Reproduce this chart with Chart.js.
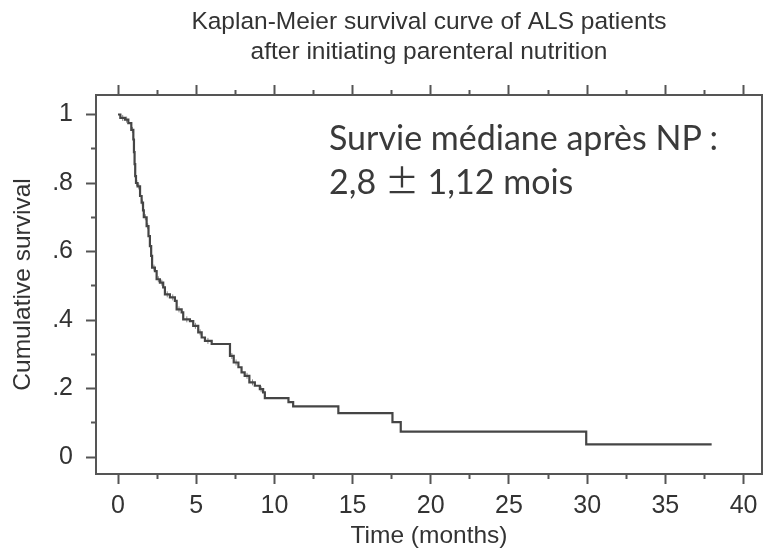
<!DOCTYPE html>
<html><head><meta charset="utf-8">
<script src="https://cdn.jsdelivr.net/npm/chart.js@4/dist/chart.umd.min.js"></script>
<style>
html,body{margin:0;padding:0;background:#fff;}
#wrap{position:relative;width:767px;height:552px;}
#note{position:absolute;left:329px;top:115px;font-family:Lato,sans-serif;font-size:34px;line-height:43px;color:#3a3a3a;white-space:nowrap;}
.pm{font-family:"Noto Sans CJK JP";}
</style></head><body>
<div id="wrap"><canvas id="c" width="767" height="552"></canvas>
<div id="note">Survie médiane après NP :<br>2,8 <span class="pm">±</span> 1,12 mois</div></div>
<script>
// Kaplan-Meier step curve: time of each step (months) and survival after it
const timeMonths = [0, 0.15, 0.45, 0.66, 0.85, 0.98, 1.02, 1.06, 1.1, 1.15, 1.25, 1.41, 1.51, 1.6, 1.65, 1.83, 1.95, 2.04, 2.12, 2.18, 2.36, 2.47, 2.68, 2.89, 3.0, 3.32, 3.64, 3.75, 4.07, 4.17, 4.6, 4.81, 5.13, 5.35, 5.56, 5.99, 7.16, 7.4, 7.7, 7.9, 8.1, 8.4, 8.75, 9.07, 9.28, 9.39, 10.9, 11.2, 14.09, 17.55, 18.08, 29.94, 37.96];
const survival   = [1.0, 0.99, 0.985, 0.975, 0.955, 0.927, 0.89, 0.855, 0.82, 0.80, 0.79, 0.762, 0.743, 0.72, 0.70, 0.674, 0.645, 0.616, 0.587, 0.553, 0.543, 0.519, 0.509, 0.495, 0.475, 0.466, 0.456, 0.431, 0.422, 0.402, 0.397, 0.383, 0.364, 0.349, 0.339, 0.33, 0.295, 0.276, 0.262, 0.247, 0.237, 0.218, 0.208, 0.198, 0.189, 0.172, 0.16, 0.148, 0.128, 0.102, 0.074, 0.037, 0.037];

// censored observations (small tick marks on the curve)
const censorTimes    = [0.3, 0.55, 0.92, 1.2, 1.33, 1.55, 1.75, 1.9, 2.08, 2.3, 2.58, 2.8, 3.15, 3.5, 3.9, 4.4, 4.95, 5.25, 5.75, 7.28, 7.55, 8.25, 8.6, 9.15];
const censorSurvival = [0.99, 0.985, 0.955, 0.80, 0.79, 0.743, 0.70, 0.674, 0.616, 0.553, 0.519, 0.509, 0.475, 0.466, 0.431, 0.402, 0.383, 0.364, 0.339, 0.295, 0.276, 0.237, 0.218, 0.198];

const xMajorTicks = [0, 5, 10, 15, 20, 25, 30, 35, 40];
const xMinorTicks = [2.5, 7.5, 12.5, 17.5, 22.5, 27.5, 32.5, 37.5];
const yMajorTicks = [0, 0.2, 0.4, 0.6, 0.8, 1];
const yTickLabels = ['0', '.2', '.4', '.6', '.8', '1'];
const yMinorTicks = [0.1, 0.3, 0.5, 0.7, 0.9];

const chartTitle = ['Kaplan-Meier survival curve of ALS patients', 'after initiating parenteral nutrition'];
const xTitle = 'Time (months)';
const yTitle = 'Cumulative survival';

const X_MIN = -1.407, X_MAX = 41.18, Y_MIN = -0.0496, Y_MAX = 1.057;
const axisColor = '#555';
const textColor = '#333';

Chart.defaults.font.family = '"Liberation Sans", Arial, sans-serif';
Chart.defaults.color = textColor;

const fixedTicks = vals => scale => { scale.ticks = vals.map(v => ({ value: v })); };

function tickAxis(axis, position, vals, len, border, weight) {
  return {
    type: 'linear', axis, position, weight,
    min: axis === 'x' ? X_MIN : Y_MIN, max: axis === 'x' ? X_MAX : Y_MAX,
    afterBuildTicks: fixedTicks(vals),
    afterFit: s => { if (axis === 'x') s.height = 0; else s.width = 0; },
    ticks: { display: false, autoSkip: false },
    grid: { display: true, drawOnChartArea: false, drawTicks: true, tickLength: len, tickColor: axisColor, tickWidth: 2 },
    border: { display: border, color: axisColor, width: 2 }
  };
}

new Chart(document.getElementById('c'), {
  type: 'line',
  data: {
    datasets: [{
      data: timeMonths.map((t, i) => ({ x: t, y: survival[i] })),
      stepped: true,
      borderColor: '#454545',
      borderWidth: 2.2,
      pointRadius: 0,
      fill: false
    }, {
      type: 'scatter',
      data: censorTimes.map((t, i) => ({ x: t, y: censorSurvival[i] })),
      showLine: false,
      pointStyle: 'line',
      rotation: 90,
      pointRadius: 3,
      borderWidth: 1,
      borderColor: '#888',
      backgroundColor: '#888'
    }]
  },
  options: {
    responsive: false, animation: false, devicePixelRatio: 1,
    layout: { padding: { left: 0, right: 5, top: 0, bottom: 0 } },
    plugins: {
      legend: { display: false }, tooltip: { enabled: false },
      title: {
        display: true, text: chartTitle, fullSize: false, color: textColor,
        font: { size: 24.5, weight: 'normal', lineHeight: 1.22 },
        padding: { top: 7, bottom: 28.2 }
      }
    },
    scales: {
      x: {
        type: 'linear', position: 'bottom', weight: 1, min: X_MIN, max: X_MAX,
        afterBuildTicks: fixedTicks(xMajorTicks),
        afterFit: s => { s.height = 78; },
        ticks: { font: { size: 25 }, color: textColor, padding: 7, autoSkip: false, maxRotation: 0 },
        grid: { drawOnChartArea: false, tickLength: 10, tickColor: axisColor, tickWidth: 2 },
        border: { display: true, color: axisColor, width: 2 },
        title: { display: true, text: xTitle, font: { size: 24.5 }, color: textColor, padding: { top: 0, bottom: 1 } }
      },
      xMinor: tickAxis('x', 'bottom', xMinorTicks, 5, false, 0),
      xTop: tickAxis('x', 'top', xMajorTicks, 10, true, 1),
      xTopMinor: tickAxis('x', 'top', xMinorTicks, 5, false, 0),
      y: {
        type: 'linear', position: 'left', weight: 1, min: Y_MIN, max: Y_MAX,
        afterBuildTicks: fixedTicks(yMajorTicks),
        afterFit: s => { s.width = 96; },
        ticks: { font: { size: 25 }, color: textColor, padding: 13, autoSkip: false,
                 callback: v => yTickLabels[yMajorTicks.indexOf(v)] },
        grid: { drawOnChartArea: false, tickLength: 10, tickColor: axisColor, tickWidth: 2 },
        border: { display: true, color: axisColor, width: 2 },
        title: { display: true, text: yTitle, font: { size: 24.5 }, color: textColor, padding: { top: 9, bottom: 0 } }
      },
      yMinor: tickAxis('y', 'left', yMinorTicks, 5, false, 0),
      yRight: {
        type: 'linear', axis: 'y', position: 'right', min: Y_MIN, max: Y_MAX,
        afterFit: s => { s.width = 0; },
        ticks: { display: false },
        grid: { display: false },
        border: { display: true, color: axisColor, width: 2 }
      }
    }
  }
});
</script>
</body></html>
